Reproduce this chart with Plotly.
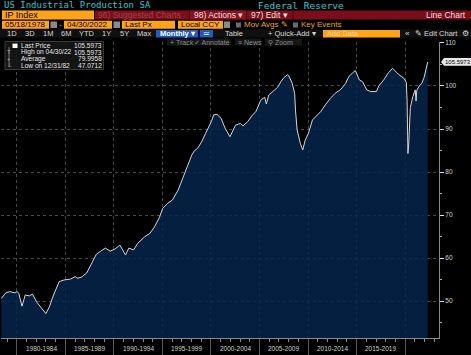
import plotly.graph_objects as go

# ---------------- data ----------------
dates = [
    "1978-05-31", "1978-11-15", "1979-04-15", "1979-10-15", "1980-01-15", "1980-03-15",
    "1980-07-15", "1980-11-15", "1981-04-15", "1981-08-15", "1982-01-15", "1982-06-15",
    "1982-12-31", "1983-05-15", "1983-10-15", "1984-05-15", "1984-11-15", "1985-07-15",
    "1986-01-15", "1986-03-15", "1986-08-15", "1987-03-15", "1987-09-15", "1988-03-15",
    "1988-09-15", "1989-02-15", "1989-08-15", "1990-02-15", "1990-08-15", "1990-11-15",
    "1991-03-15", "1991-07-15", "1992-01-15", "1992-06-15", "1993-03-15", "1993-09-15",
    "1994-03-15", "1994-09-15", "1995-01-15", "1995-07-15", "1996-01-15", "1996-08-15",
    "1997-02-15", "1997-08-15", "1998-01-15", "1998-04-15", "1998-08-15", "1999-01-15",
    "1999-06-15", "2000-01-15", "2000-04-15", "2000-08-15", "2001-01-15", "2001-06-15",
    "2001-12-15", "2002-03-15", "2002-07-15", "2003-01-15", "2003-04-15", "2003-10-15",
    "2004-04-15", "2004-08-15", "2005-02-15", "2005-07-15", "2005-09-15", "2005-12-15",
    "2006-07-15", "2006-11-15", "2007-03-15", "2007-07-15", "2007-11-15", "2008-01-15",
    "2008-05-15", "2008-08-15", "2008-09-15", "2008-11-15", "2009-03-15", "2009-06-15",
    "2009-09-15", "2010-01-15", "2010-06-15", "2011-01-15", "2011-04-15", "2011-10-15",
    "2012-04-15", "2012-10-15", "2013-05-15", "2013-11-15", "2014-03-15", "2014-08-15",
    "2014-11-15", "2015-04-15", "2015-08-15", "2016-01-15", "2016-06-15", "2017-01-15",
    "2017-04-15", "2017-10-15", "2018-04-15", "2018-09-15", "2019-01-15", "2019-05-15",
    "2019-11-15", "2020-02-15", "2020-03-15", "2020-04-15", "2020-05-15", "2020-06-15",
    "2020-07-15", "2020-10-15", "2021-01-15", "2021-02-15", "2021-03-15", "2021-06-15",
    "2021-09-15", "2021-12-15", "2022-02-15", "2022-04-30",
]
values = [
    50.6, 51.9, 52.2, 51.9, 52.2, 51.8,
    48.8, 51.4, 51.2, 51.6, 49.8, 48.5,
    47.0712, 48.7, 51.4, 54.5, 54.9, 55.1,
    55.7, 55.3, 55.5, 56.5, 58.8, 60.9,
    61.7, 62.3, 61.6, 62.1, 63.0, 61.9,
    60.7, 62.3, 61.9, 63.4, 65.0, 65.7,
    67.3, 69.5, 71.6, 72.7, 73.5, 75.8,
    78.9, 81.6, 84.0, 84.9, 85.5, 87.0,
    89.0, 91.7, 93.3, 93.4, 92.5, 90.2,
    88.2, 89.4, 90.9, 91.3, 90.7, 91.7,
    93.3, 94.0, 96.7, 97.4, 95.8, 97.9,
    99.1, 99.7, 101.0, 102.0, 102.6, 102.3,
    100.6, 98.3, 94.4, 89.8, 86.7, 85.1,
    87.4, 89.0, 92.1, 93.3, 94.0, 95.6,
    97.1, 98.3, 99.2, 100.6, 102.2, 103.1,
    103.6, 101.4, 101.0, 99.1, 98.7, 98.7,
    100.0, 101.4, 103.1, 104.1, 103.3, 102.6,
    101.8, 100.8, 96.5, 84.3, 86.5, 92.0,
    95.0, 97.5, 99.1, 96.5, 99.0, 100.0,
    100.6, 102.0, 103.7, 105.5973,
]
period_starts = [1980, 1985, 1990, 1995, 2000, 2005, 2010, 2015]
period_labels = ["1980-1984", "1985-1989", "1990-1994", "1995-1999",
                 "2000-2004", "2005-2009", "2010-2014", "2015-2019"]
legend_names = ["Last Price", "High on 04/30/22", "Average", "Low on 12/31/82"]
legend_values = ["105.5973", "105.5973", "79.9958", "47.0712"]

# ---------------- geometry helpers ----------------
FW, FH = 471, 355
L, R, T, B = 1, 32, 42, 17
PW = FW - L - R
PH = FH - T - B
SANS = "Liberation Sans"
MONO = "DejaVu Sans Mono"


def fx(x):
    return (x - L) / PW


def fy(y):
    return (FH - B - y) / PH


shapes = []
annots = []


def rect(x0, y0, x1, y1, fill, line=None, lw=0):
    shapes.append(dict(type="rect", xref="paper", yref="paper",
                       x0=fx(x0), x1=fx(x1), y0=fy(y1), y1=fy(y0),
                       fillcolor=fill, layer="above",
                       line=dict(color=line or fill, width=lw)))


def vline(x, y0, y1, color, w=1):
    shapes.append(dict(type="line", xref="paper", yref="paper",
                       x0=fx(x), x1=fx(x), y0=fy(y1), y1=fy(y0),
                       layer="above", line=dict(color=color, width=w)))


def txt(x, y, s, color, size, anchor="left", family=SANS, bold=False):
    if bold:
        s = "<b>" + s + "</b>"
    annots.append(dict(xref="paper", yref="paper", x=fx(x), y=fy(y), text=s,
                       showarrow=False, xanchor=anchor, yanchor="middle",
                       borderpad=0, font=dict(family=family, size=size, color=color)))


ORANGE = "#ffa31a"

# Row 1: title line
txt(3, 5, "US Industrial Production SA", "#34c6cc", 9, family=MONO)
txt(257, 5, "Federal Reserve", "#34c6cc", 9.5, family=MONO)

# Row 2: security / menu bar
rect(2, 10.5, 94, 19.5, ORANGE)
txt(4, 15.2, "IP Index", "#000000", 9)
rect(95, 10.5, 471, 19.5, "#7a0f1b")
rect(190, 10.5, 246, 19.5, "#8a1220")
txt(97, 15.2, "96) Suggested Charts", "#a8404c", 8.5)
txt(193, 15.2, "98) Actions ▾", "#f3dede", 8.5)
txt(250, 15.2, "97) Edit ▾", "#f3dede", 8.5)
txt(467, 15.2, "Line Chart", "#f3dede", 8.5, anchor="right")
vline(189.5, 10.5, 19.5, "#4a0810")
vline(246.5, 10.5, 19.5, "#4a0810")
vline(293, 10.5, 19.5, "#4a0810")

# Row 3: date range / options
rect(2, 20.7, 49, 28.8, ORANGE)
txt(4, 24.8, "05/18/1978", "#000000", 8)
rect(50.5, 21.5, 57, 28, "#8a8a8a")
txt(60.5, 24.8, "-", ORANGE, 8, anchor="center")
rect(64, 20.7, 112, 28.8, ORANGE)
txt(66, 24.8, "04/30/2022", "#000000", 8)
rect(113.5, 21.5, 120, 28, "#8a8a8a")
rect(122, 20.7, 175, 28.8, ORANGE)
txt(124, 24.8, "Last Px", "#000000", 8)
rect(178, 20.7, 223, 28.8, ORANGE)
txt(180, 24.8, "Local CCY", "#000000", 8)
rect(224, 21.5, 230, 28, "#8a8a8a")
rect(236, 22.5, 241, 27.5, "#6a6a6a")
txt(243, 24.8, "Mov Avgs ✎", "#e8a020", 8)
rect(293, 22.5, 298, 27.5, "#6a6a6a")
txt(300, 24.8, "Key Events", "#e8a020", 8)

# Row 4: periods / toolbar
rect(0, 29.5, 471, 37.6, "#101010")
for lab, cx in [("1D", 12), ("3D", 29.5), ("1M", 47.5), ("6M", 66), ("YTD", 86.5),
                ("1Y", 106.5), ("5Y", 124), ("Max", 144)]:
    txt(cx, 33.5, lab, "#d8d8d8", 7.5, anchor="center")
rect(156, 30, 198, 37.4, "#1f5ac4")
txt(159, 33.7, "Monthly ▾", "#ffffff", 7.5, bold=True)
rect(200, 30, 213, 37.4, "#1f5ac4")
txt(206.5, 33.5, "≃", "#ffffff", 7.5, anchor="center")
txt(224, 33.5, "Table", "#d8d8d8", 7.5)
txt(267, 33.5, "+ Quick-Add ▾", "#d8d8d8", 7.5)
rect(323, 30, 400, 37.4, ORANGE)
txt(326, 33.7, "Add Data", "#ffd59a", 7.5)
txt(404, 33.5, "«", "#d8d8d8", 8)
txt(414, 33.5, "✎ Edit Chart", "#d8d8d8", 7.5)
txt(465, 33.5, "⚙", "#d8d8d8", 7.5, anchor="center")

# Row 5: chart tools (overlapping the plot top)
for lab, x0, x1 in [("+ Track", 167, 189), ("✓ Annotate", 191, 231),
                    ("≡ News", 235, 261), ("⚲ Zoom", 265, 302)]:
    rect(x0, 38.5, x1, 45.5, "#161616")
    txt(x0 + 2, 42, lab, "#8c8c8c", 7)

# Legend box
rect(5, 41.5, 103.5, 69.5, "rgba(22,22,22,0.92)", line="#3a3a3a", lw=1)
rect(12.5, 43.6, 17.5, 48, "#ffffff")
vline(9, 47, 67, "#777777")
rows_y = [45.8, 52.4, 58.8, 65.3]
icons = [None, "T", "+", "⊥"]
for name, val, yy, ic in zip(legend_names, legend_values, rows_y, icons):
    if ic:
        txt(9, yy, ic, "#aaaaaa", 6, anchor="center")
    txt(19.5, yy, name, "#e6e6e6", 6.6)
    txt(102.5, yy, val, "#e6e6e6", 6.6, anchor="right")

# Period labels below x axis
for s, lab in zip(period_starts, period_labels):
    annots.append(dict(xref="x", yref="paper", x=f"{s + 2}-07-02", y=fy(348.8),
                       text=lab, showarrow=False, xanchor="center", yanchor="middle",
                       font=dict(family=SANS, size=6.5, color="#cfcfcf")))

# Last price tag on the right axis (positioned from last data value)
last = values[-1]
hu = 3.8 / (PH / (110.23 - 41.4))
shapes.append(dict(type="path", xref="paper", yref="y", layer="above",
                   path=(f"M {fx(441)},{last} L {fx(444)},{last + hu} L {fx(471)},{last + hu} "
                         f"L {fx(471)},{last - hu} L {fx(444)},{last - hu} Z"),
                   fillcolor="#e6e6e6", line=dict(width=0)))
annots.append(dict(xref="paper", yref="y", x=fx(444), y=last, text=f"{last:.4f}",
                   showarrow=False, xanchor="left", yanchor="middle", borderpad=0,
                   font=dict(family=SANS, size=6, color="#000000")))

# ---------------- figure ----------------
fig = go.Figure()
fig.add_trace(go.Scatter(x=dates, y=values, mode="lines",
                         line=dict(color="#d6d6d6", width=1),
                         fill="tozeroy", fillcolor="rgba(5,36,74,0.85)",
                         hoverinfo="skip", showlegend=False))

fig.update_layout(
    width=FW, height=FH,
    margin=dict(l=L, r=R, t=T, b=B, pad=0),
    paper_bgcolor="#000000", plot_bgcolor="#000000",
    showlegend=False,
    shapes=shapes, annotations=annots,
    xaxis=dict(type="date", range=["1978-05-18", "2023-06-28"],
               tickmode="linear", tick0="1980-01-01", dtick="M60",
               showticklabels=False, ticks="outside", ticklen=17, tickcolor="#5a5a5a",
               showgrid=True, gridcolor="#4a4a4a", griddash="dot", gridwidth=1,
               showline=True, linecolor="#8a8a8a", linewidth=1,
               minor=dict(dtick="M12", tick0="1980-01-01", ticks="outside",
                          ticklen=3, tickcolor="#8a8a8a", showgrid=False),
               zeroline=False, fixedrange=True),
    yaxis=dict(side="right", range=[41.4, 110.23],
               tickmode="linear", tick0=50, dtick=10,
               ticks="outside", ticklen=4, tickcolor="#dddddd",
               tickfont=dict(family=SANS, size=6.5, color="#d6d6d6"),
               showgrid=True, gridcolor="#4a4a4a", griddash="dot", gridwidth=1,
               showline=True, linecolor="#8a8a8a", linewidth=1,
               minor=dict(dtick=5, tick0=45, ticks="outside", ticklen=2,
                          tickcolor="#aaaaaa", showgrid=False),
               zeroline=False, fixedrange=True),
)

fig.write_html("out.html", config={"displayModeBar": False},
               post_script="document.body.style.margin='0';document.body.style.overflow='hidden';")
